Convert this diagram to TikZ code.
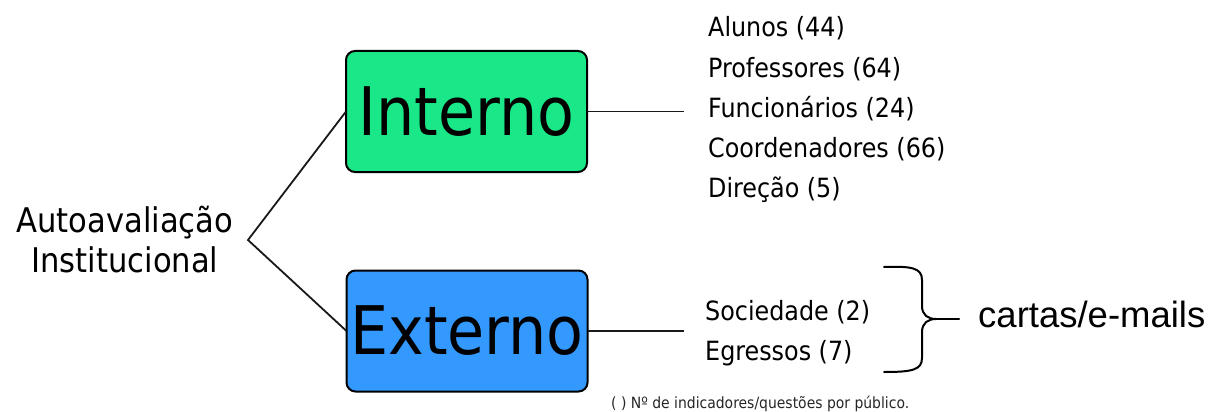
\documentclass[tikz,border=0pt]{standalone}
\usepackage{fontspec}
\setmainfont{DejaVu Sans Condensed}
\newfontfamily\arialf{Liberation Sans}
\definecolor{intgreen}{RGB}{26,232,136}
\definecolor{extblue}{RGB}{51,153,255}
\begin{document}
\begin{tikzpicture}[x=1pt,y=-1pt,
  box/.style={draw=black, line width=2pt, rounded corners=9pt, minimum width=241pt, minimum height=121pt, inner sep=0pt, outer sep=0pt, font=\fontsize{67}{67}\selectfont},
  conn/.style={line width=1.8pt, draw=black!90},
  item/.style={anchor=base west, inner sep=0pt, font=\fontsize{26.5}{26.5}\selectfont},
  rootlbl/.style={anchor=base, inner sep=0pt, font=\fontsize{34}{34}\selectfont},
  bracestyle/.style={line width=2pt, line cap=round}]
\useasboundingbox (0,0) rectangle (1211,412);
\fill[white] (0,0) rectangle (1211,412);

\node[box, fill=intgreen] (int) at (466.5,111.5) {Interno};
\node[box, fill=extblue] (ext) at (467,331) {Externo};

\node[rootlbl] (auto1) at (125,232) {Autoavaliação};
\node[rootlbl] (auto2) at (125,272) {Institucional};

\coordinate (v) at (248,240);
\draw[conn] (int.west) -- (v) -- (ext.west);

\coordinate (ie) at (684,111.5);
\coordinate (ee) at (684,331);
\draw[conn] (int.east) -- (ie);
\draw[conn] (ext.east) -- (ee);

\node[item] (alunos) at (708,37) {Alunos (44)};
\node[item] (prof) at (708,77.5) {Professores (64)};
\node[item] (func) at (708,117.5) {Funcionários (24)};
\node[item] (coord) at (708,157.5) {Coordenadores (66)};
\node[item] (dir) at (708,197) {Direção (5)};

\node[item] (soc) at (705,320) {Sociedade (2)};
\node[item] (egr) at (705,360) {Egressos (7)};

\draw[bracestyle] (884,267) .. controls (912,266) and (922,268) .. (922,280) -- (922,306) .. controls (922,315) and (928,319) .. (936,319)
  .. controls (928,319) and (922,323) .. (922,332) -- (922,358) .. controls (922,370) and (912,372) .. (884,372);
\coordinate (tip) at (936,319);
\coordinate (tail) at (959,319);
\draw[bracestyle] (tip) -- (tail);

\node[anchor=base west, inner sep=0pt, font=\arialf\fontsize{36.5}{36.5}\selectfont] (cartas) at (978,327) {cartas/e-mails};

\node[anchor=base west, inner sep=0pt, font=\fontsize{15.5}{15.5}\selectfont, text=black!85] (nota) at (611,408) {( ) Nº de indicadores/questões por público.};
\end{tikzpicture}
\end{document}
